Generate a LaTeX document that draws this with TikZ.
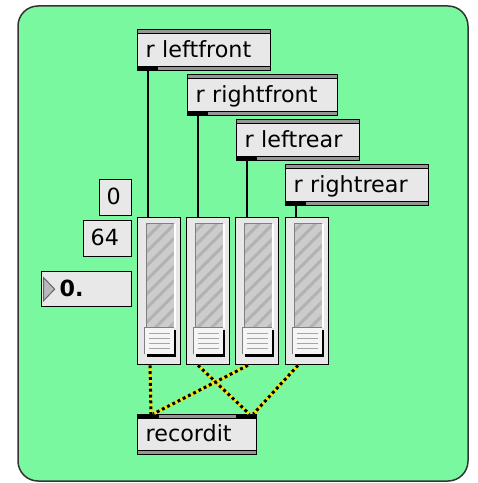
\documentclass[tikz,border=0pt]{standalone}
\usepackage{fontspec}
\setmainfont{DejaVu Sans}
\usepackage{tikz}
\usetikzlibrary{calc, patterns.meta}

\definecolor{patchgreen}{RGB}{122,248,160}
\definecolor{boxgray}{RGB}{232,232,232}
\definecolor{bandgray}{RGB}{150,150,150}
\definecolor{trackgray}{RGB}{204,204,204}
\definecolor{stripegray}{RGB}{178,178,178}
\definecolor{knobwhite}{RGB}{245,245,245}
\definecolor{cordyellow}{RGB}{255,222,0}
\newcommand\px{0.03cm}

\begin{document}
\begin{tikzpicture}[x=0.03cm, y=-0.03cm,
    maxbox/.style={draw=black, line width=1.3*\px, fill=boxgray, anchor=north west, inner ysep=0, inner xsep=8*\px, align=left, text height=14pt, text depth=2pt, font=\fontsize{19}{21}\selectfont},
    rbox/.style={maxbox, minimum height=41*\px, path picture={
        \coordinate (a) at (path picture bounding box.north west);
        \coordinate (b) at (path picture bounding box.south east);
        \fill[bandgray] (a) rectangle ($(a-|b)+(0,4)$);
        \draw[black, line width=1.3*\px] ($(a)+(0,4)$) -- ($(a-|b)+(0,4)$);
        \fill[bandgray] ($(a|-b)+(0,-4)$) rectangle (b);
        \draw[black, line width=1.3*\px] ($(a|-b)+(0,-4)$) -- ($(b)+(0,-4)$);
        \fill[black] ($(a|-b)+(0,-4)$) rectangle ($(a|-b)+(20,0)$);
    }},
    recbox/.style={maxbox, minimum height=40*\px, path picture={
        \coordinate (a) at (path picture bounding box.north west);
        \coordinate (b) at (path picture bounding box.south east);
        \fill[bandgray] (a) rectangle ($(a-|b)+(0,4)$);
        \draw[black, line width=1.3*\px] ($(a)+(0,4)$) -- ($(a-|b)+(0,4)$);
        \fill[black] (a) rectangle ($(a)+(21,4)$);
        \fill[black] ($(a-|b)+(-21,0)$) rectangle ($(a-|b)+(0,4)$);
        \fill[bandgray] ($(a|-b)+(0,-4)$) rectangle (b);
        \draw[black, line width=1.3*\px] ($(a|-b)+(0,-4)$) -- ($(b)+(0,-4)$);
    }},
    numbox/.style={maxbox, inner xsep=7*\px},
    flonum/.style={path picture={
        \coordinate (a) at (path picture bounding box.north west);
        \filldraw[fill=gray!55, draw=gray!80!black, line width=\px] ($(a)+(2,6)$) -- ($(a)+(13,17.5)$) -- ($(a)+(2,29)$) -- cycle;
    }},
    slider/.style={draw=black, line width=1.3*\px, fill=boxgray, anchor=north west, inner sep=0, minimum width=43*\px, minimum height=147*\px, path picture={
        \coordinate (a) at (path picture bounding box.north west);
        \fill[trackgray] ($(a)+(9,6)$) rectangle ($(a)+(36,110)$);
        \fill[pattern={Lines[angle=45, distance=8.5pt, line width=2.6pt]}, pattern color=stripegray] ($(a)+(9,6)$) rectangle ($(a)+(36,110)$);
        \draw[gray, line width=1.2*\px] ($(a)+(9,110)$) -- ($(a)+(9,6)$) -- ($(a)+(36,6)$);
        \draw[white, line width=2*\px] ($(a)+(37,6)$) -- ($(a)+(37,110)$);
        \fill[black] ($(a)+(9,112)$) rectangle ($(a)+(38.5,139)$);
        \fill[knobwhite] ($(a)+(7,110)$) rectangle ($(a)+(36,136.5)$);
        \draw[gray, line width=\px] ($(a)+(7,136.5)$) -- ($(a)+(7,110)$) -- ($(a)+(36,110)$);
        \draw[gray!70, line width=1.3*\px] ($(a)+(11,116)$) -- ++(21,0);
        \draw[gray!70, line width=1.3*\px] ($(a)+(11,121)$) -- ++(21,0);
        \draw[gray!70, line width=1.3*\px] ($(a)+(11,126)$) -- ++(21,0);
        \draw[gray!70, line width=1.3*\px] ($(a)+(11,130.5)$) -- ++(21,0);
    }},
    patch/.style={draw=black, line width=1.5*\px},
    sigcord/.style={draw=black, line width=3*\px, dash pattern=on 2.5pt off 2.5pt, preaction={draw=cordyellow, solid, line width=3*\px}}]

    \useasboundingbox (0,0) rectangle (477,483);
    \draw[draw=black!80, fill=patchgreen, line width=1.5*\px, rounded corners=0.6cm] (18,6) rectangle (468,481);

    \node[rbox, text width=117*\px] (lf) at (137,29) {r leftfront};
    \node[rbox, text width=134*\px] (rf) at (187,74) {r rightfront};
    \node[rbox, text width=107*\px] (lr) at (236,119) {r leftrear};
    \node[rbox, text width=127*\px] (rr) at (285,164) {r rightrear};

    \node[numbox, text width=18*\px, minimum height=36*\px] (zero) at (99,179) {0};
    \node[numbox, text width=34*\px, minimum height=36*\px] (sixtyfour) at (83,220) {64};
    \node[maxbox, flonum, text width=74*\px, minimum height=35*\px] (flo) at (41,271) {\hspace*{0.3cm}\textbf{0.}};

    \node[slider] (s1) at (137,217) {};
    \node[slider] (s2) at (186,217) {};
    \node[slider] (s3) at (235,217) {};
    \node[slider] (s4) at (285,217) {};

    \node[recbox, text width=103*\px] (rec) at (137,414) {recordit};

    \draw[patch] ($(lf.south west)+(11,0)$) -- ($(s1.north west)+(11,0)$);
    \draw[patch] ($(rf.south west)+(11,0)$) -- ($(s2.north west)+(12,0)$);
    \draw[patch] ($(lr.south west)+(11,0)$) -- ($(s3.north west)+(12,0)$);
    \draw[patch] ($(rr.south west)+(11,0)$) -- ($(s4.north west)+(11,0)$);

    \draw[sigcord] ($(s1.south west)+(13,0)$) -- ($(rec.north west)+(14,0)$);
    \draw[sigcord] ($(s2.south west)+(12,0)$) -- ($(rec.north east)+(-8,0)$);
    \draw[sigcord] ($(s3.south west)+(13,0)$) -- ($(rec.north west)+(16,0)$);
    \draw[sigcord] ($(s4.south west)+(13,0)$) -- ($(rec.north east)+(-4,0)$);
\end{tikzpicture}
\end{document}
